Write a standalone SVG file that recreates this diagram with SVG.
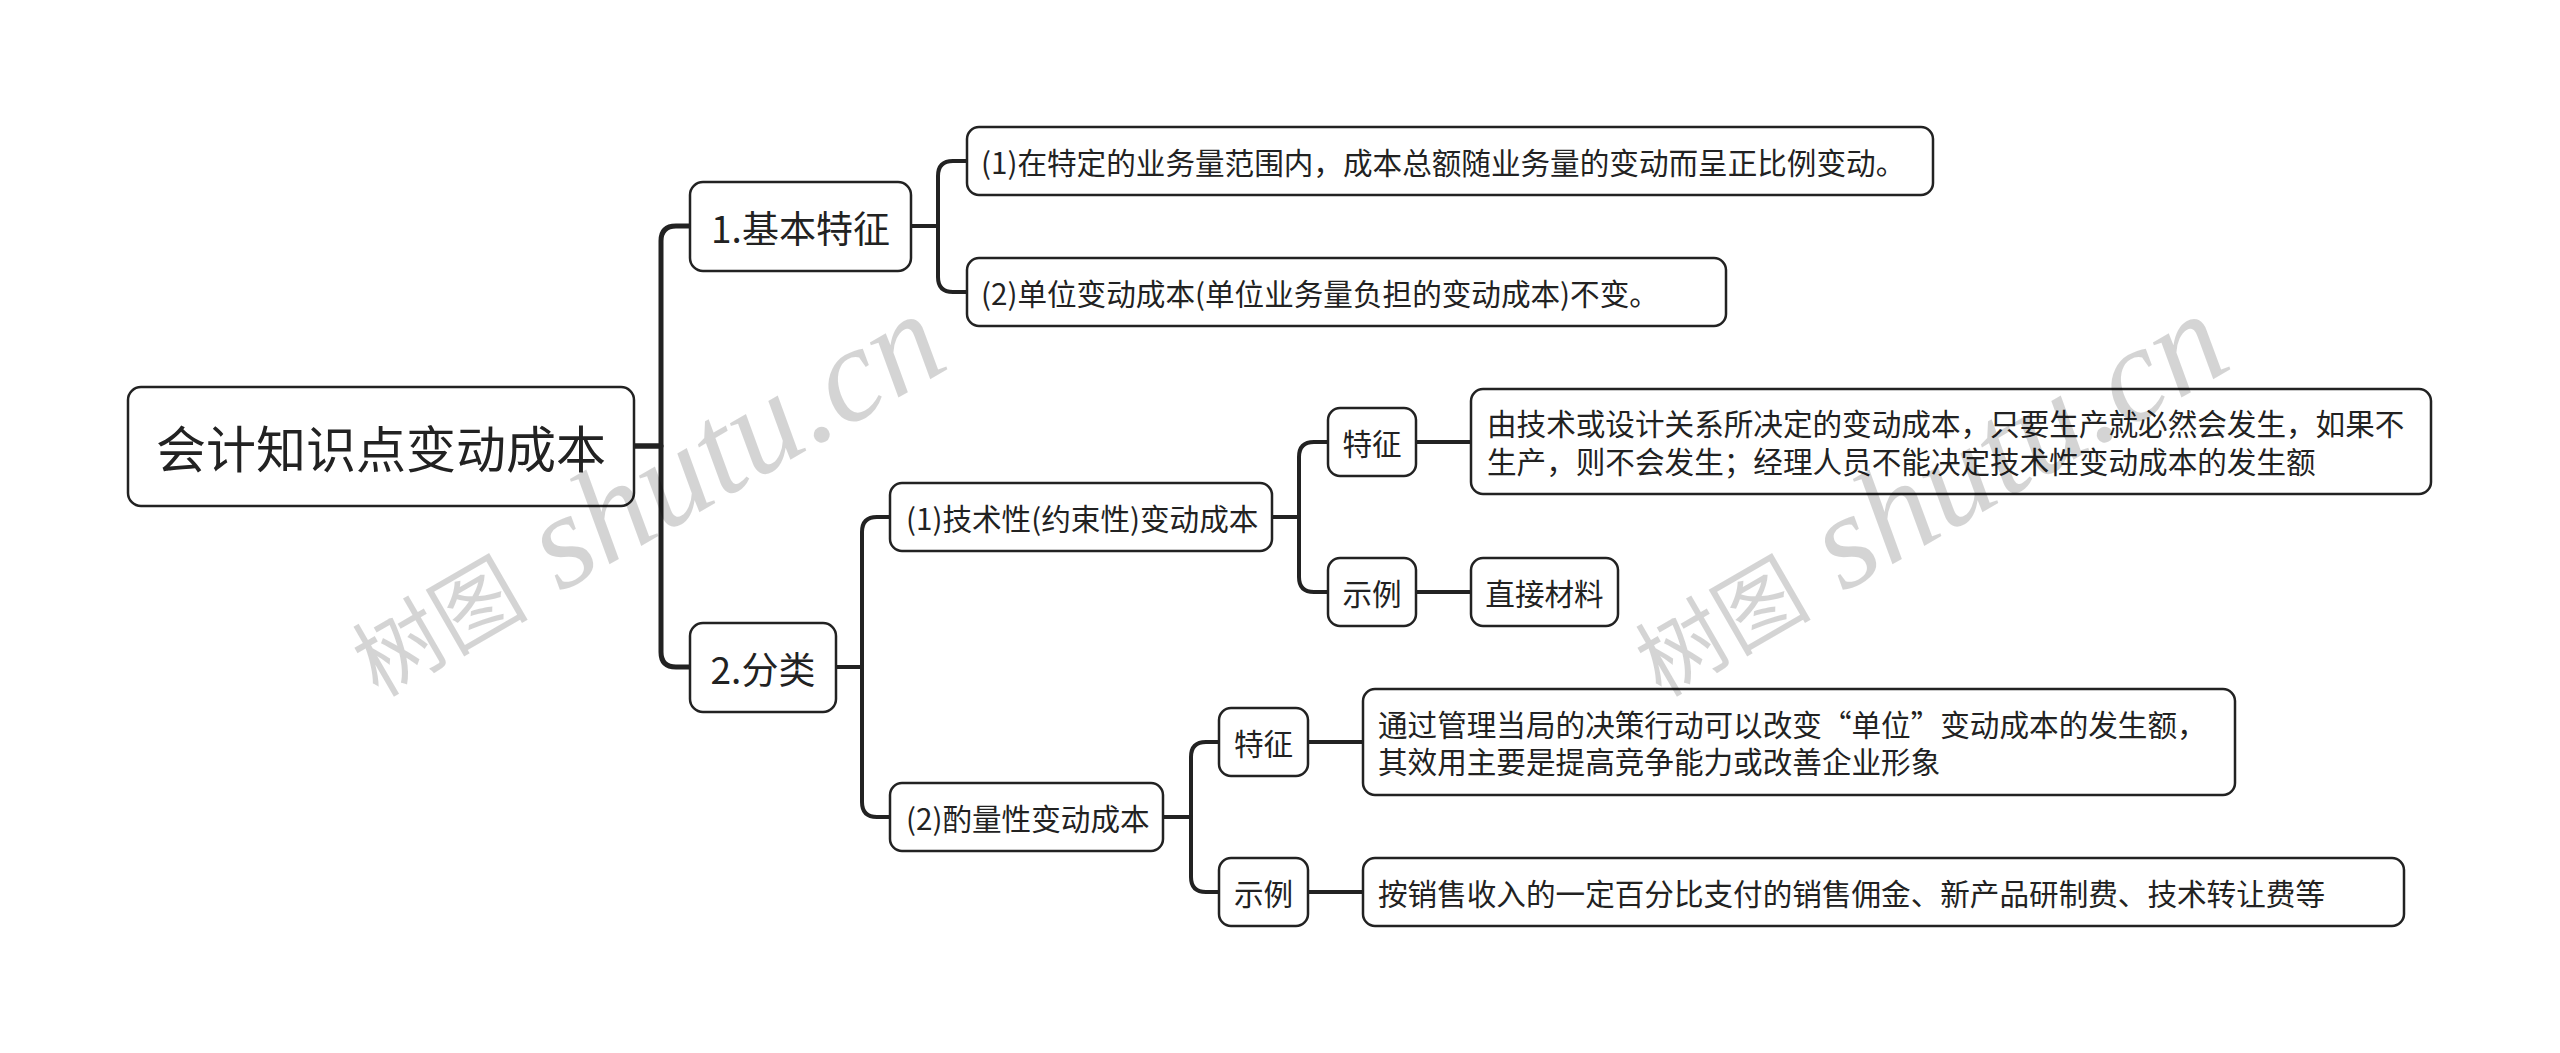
<svg xmlns="http://www.w3.org/2000/svg" width="2560" height="1053" viewBox="0 0 2560 1053" lang="zh-CN">
<style>
.box{fill:#fff;stroke:#222;stroke-width:2.5}
.t{font-family:"Noto Sans CJK SC","Noto Sans",sans-serif;fill:#222;dominant-baseline:central}
.c{text-anchor:middle}
.s{font-size:29.6px}
.l1{font-size:37px}
.root{font-size:50px}
.ln{fill:none;stroke:#222;stroke-width:4;stroke-linecap:butt;stroke-linejoin:round}
.ln0{stroke-width:5}
.wm{font-family:"Liberation Serif","Noto Sans CJK SC",serif;fill:#000;fill-opacity:0.17}
</style>
<rect width="2560" height="1053" fill="#fff"/>
<g id="connectors">
<path class="ln ln0" d="M634 446H661V241Q661 226 676 226H690"/>
<path class="ln ln0" d="M634 446H661V652Q661 667 676 667H690"/>
<path class="ln" d="M911 226H938V176Q938 161 953 161H967"/>
<path class="ln" d="M911 226H938V277Q938 292 953 292H967"/>
<path class="ln" d="M835 667H862V532Q862 517 877 517H890"/>
<path class="ln" d="M835 667H862V802Q862 817 877 817H890"/>
<path class="ln" d="M1272 517H1299V457Q1299 442 1314 442H1328"/>
<path class="ln" d="M1272 517H1299V577Q1299 592 1314 592H1328"/>
<path class="ln" d="M1416 442H1471"/>
<path class="ln" d="M1416 592H1471"/>
<path class="ln" d="M1163 817H1191V757Q1191 742 1206 742H1219"/>
<path class="ln" d="M1163 817H1191V877Q1191 892 1206 892H1219"/>
<path class="ln" d="M1308 742H1363"/>
<path class="ln" d="M1308 892H1363"/>
</g>
<g id="root">
<rect class="box" x="128" y="387" width="506" height="119" rx="13"/>
<text class="t c root" x="381" y="446">会计知识点变动成本</text>
</g>
<g id="n1">
<rect class="box" x="690" y="182" width="221" height="89" rx="13"/>
<text class="t c l1" x="800.5" y="226.5">1.基本特征</text>
</g>
<g id="n2">
<rect class="box" x="690" y="623" width="146" height="89" rx="13"/>
<text class="t c l1" x="763" y="667.5">2.分类</text>
</g>
<g id="n1-1">
<rect class="box" x="967" y="127" width="966" height="68" rx="12"/>
<text class="t s" x="981" y="161">(1)在特定的业务量范围内，成本总额随业务量的变动而呈正比例变动。</text>
</g>
<g id="n1-2">
<rect class="box" x="967" y="258" width="759" height="68" rx="12"/>
<text class="t s" x="981" y="292">(2)单位变动成本(单位业务量负担的变动成本)不变。</text>
</g>
<g id="n2-1">
<rect class="box" x="890" y="483" width="382" height="68" rx="12"/>
<text class="t s" x="906" y="517">(1)技术性(约束性)变动成本</text>
</g>
<g id="n2-2">
<rect class="box" x="890" y="783" width="273" height="68" rx="12"/>
<text class="t s" x="906" y="817">(2)酌量性变动成本</text>
</g>
<g id="n2-1-1">
<rect class="box" x="1328" y="408" width="88" height="68" rx="12"/>
<text class="t c s" x="1372" y="442">特征</text>
</g>
<g id="n2-1-1-1">
<rect class="box" x="1471" y="389" width="960" height="105" rx="12"/>
<text class="t s" x="1487" y="422">由技术或设计关系所决定的变动成本，只要生产就必然会发生，如果不</text>
<text class="t s" x="1487" y="460">生产，则不会发生；经理人员不能决定技术性变动成本的发生额</text>
</g>
<g id="n2-1-2">
<rect class="box" x="1328" y="558" width="88" height="68" rx="12"/>
<text class="t c s" x="1372" y="592">示例</text>
</g>
<g id="n2-1-2-1">
<rect class="box" x="1471" y="558" width="147" height="68" rx="12"/>
<text class="t c s" x="1544.5" y="592">直接材料</text>
</g>
<g id="n2-2-1">
<rect class="box" x="1219" y="708" width="89" height="68" rx="12"/>
<text class="t c s" x="1263.5" y="742">特征</text>
</g>
<g id="n2-2-1-1">
<rect class="box" x="1363" y="689" width="872" height="106" rx="12"/>
<text class="t s" x="1378" y="723.5">通过管理当局的决策行动可以改变“单位”变动成本的发生额，</text>
<text class="t s" x="1378" y="760.5">其效用主要是提高竞争能力或改善企业形象</text>
</g>
<g id="n2-2-2">
<rect class="box" x="1219" y="858" width="89" height="68" rx="12"/>
<text class="t c s" x="1263.5" y="892">示例</text>
</g>
<g id="n2-2-2-1">
<rect class="box" x="1363" y="858" width="1041" height="68" rx="12"/>
<text class="t s" x="1378" y="892">按销售收入的一定百分比支付的销售佣金、新产品研制费、技术转让费等</text>
</g>
<g id="watermarks">
<text class="wm" x="378" y="698" transform="rotate(-30 378 698)"><tspan font-size="88">树图</tspan><tspan font-size="135" font-style="italic"> shutu.cn</tspan></text>
<text class="wm" x="1661" y="698" transform="rotate(-30 1661 698)"><tspan font-size="88">树图</tspan><tspan font-size="135" font-style="italic"> shutu.cn</tspan></text>
</g>
</svg>
